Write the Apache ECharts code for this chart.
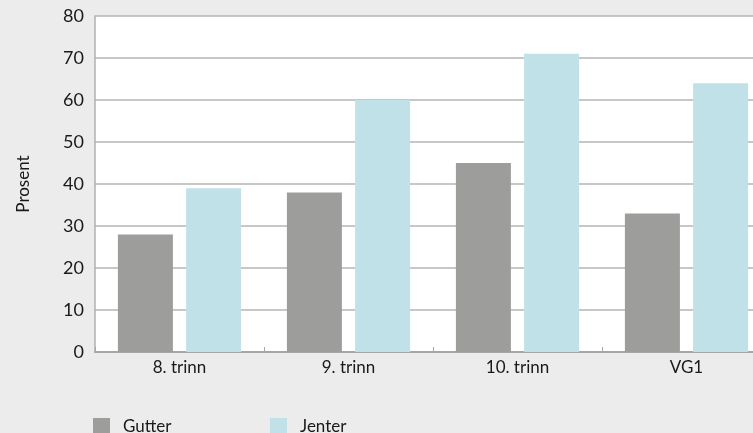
<!DOCTYPE html>
<html>
<head>
<meta charset="utf-8">
<script src="https://cdn.jsdelivr.net/npm/echarts@6/dist/echarts.min.js"></script>
<style>
  html, body { margin: 0; padding: 0; background: #ececec; overflow: hidden; }
  /* the plot runs a little past the right and bottom edges of the window */
  #chart { width: 771px; height: 460px; }
</style>
</head>
<body>
<div id="chart"></div>
<script>
// Andel i prosent per trinn, gutter og jenter
const categories = ['8. trinn', '9. trinn', '10. trinn', 'VG1'];
const gutter = [28, 38, 45, 33];
const jenter = [39, 60, 71, 64];
const yTicks = { min: 0, max: 80, interval: 10 };

const FONT = 'Lato, "Noto Sans", sans-serif';
const TEXT = '#1a1a1a';

const legendText = { fontFamily: FONT, fontSize: 17, color: TEXT, padding: [0, 0, 0, 8] };

const chart = echarts.init(document.getElementById('chart'), null, { renderer: 'canvas' });
chart.setOption({
  backgroundColor: '#ececec',
  animation: false,
  grid: {
    left: 95, right: 0, top: 16, bottom: 108,
    show: true, backgroundColor: '#ffffff', borderWidth: 0
  },
  legend: [
    {
      data: ['Gutter'], left: 93, top: 418, padding: 0, itemWidth: 17, itemHeight: 17,
      icon: 'rect', selectedMode: false, textStyle: legendText
    },
    {
      data: ['Jenter'], left: 270, top: 418, padding: 0, itemWidth: 17, itemHeight: 17,
      icon: 'rect', selectedMode: false, textStyle: legendText
    }
  ],
  xAxis: {
    type: 'category',
    data: categories,
    axisLine: { show: true, lineStyle: { color: '#a6a6a6', width: 2 } },
    axisTick: { show: true, inside: true, length: 5, lineStyle: { color: '#a6a6a6' } },
    axisLabel: { fontFamily: FONT, fontSize: 17, color: TEXT, margin: 7 }
  },
  yAxis: {
    type: 'value',
    min: yTicks.min, max: yTicks.max, interval: yTicks.interval,
    name: 'Prosent',
    nameLocation: 'middle',
    nameGap: 63,
    nameRotate: 90,
    nameTextStyle: { fontFamily: FONT, fontSize: 17, color: TEXT },
    axisLine: { show: true, lineStyle: { color: '#b0b0b0', width: 1.5 } },
    axisTick: { show: false },
    axisLabel: { fontFamily: FONT, fontSize: 18, color: TEXT, margin: 11 },
    splitLine: { show: true, lineStyle: { color: '#b4b4b4', width: 1.5 } }
  },
  series: [
    {
      name: 'Gutter', type: 'bar', data: gutter,
      itemStyle: { color: '#9d9d9c' },
      barWidth: 55, barGap: '24%'
    },
    {
      name: 'Jenter', type: 'bar', data: jenter,
      itemStyle: { color: '#c0e1e7' },
      barWidth: 55, barGap: '24%'
    }
  ]
});
</script>
</body>
</html>
